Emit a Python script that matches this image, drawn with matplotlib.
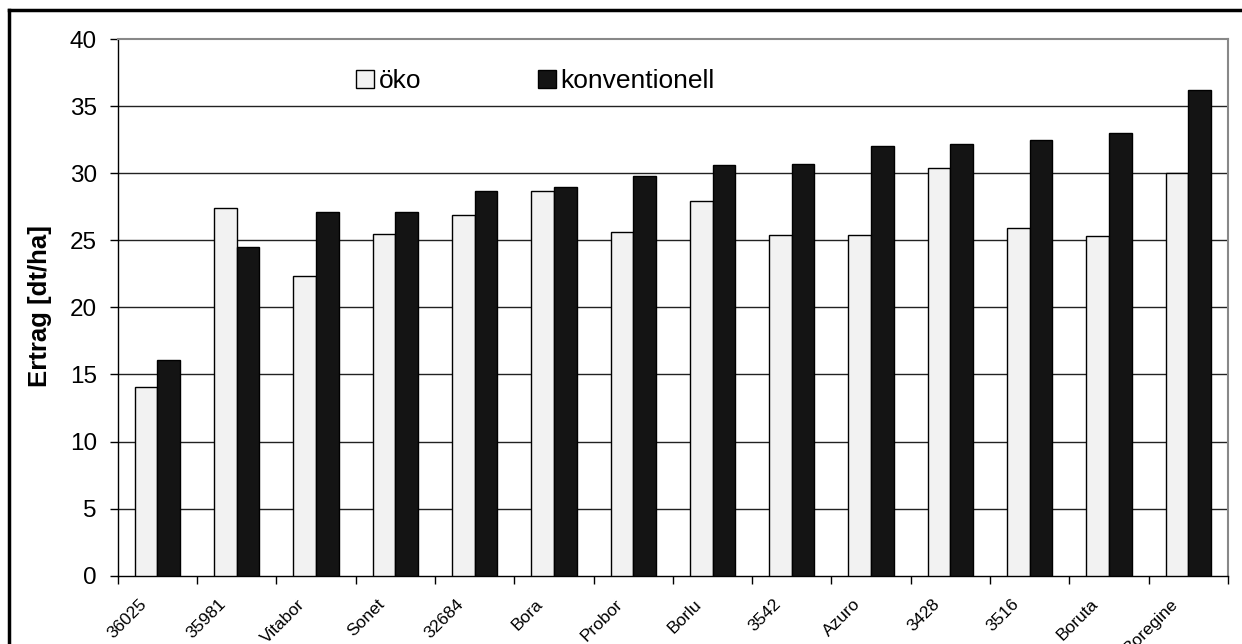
import numpy as np
import matplotlib
matplotlib.use('Agg')
import matplotlib.pyplot as plt
import matplotlib.transforms as mtrans
from matplotlib.lines import Line2D

plt.rcParams['font.family'] = ['Liberation Sans', 'DejaVu Sans']

# data
sorten = ['36025', '35981', 'Vitabor', 'Sonet', '32684', 'Bora', 'Probor',
          'Borlu', '3542', 'Azuro', '3428', '3516', 'Boruta', 'Boregine']
oeko = [14.1, 27.4, 22.3, 25.5, 26.9, 28.7, 25.6, 27.9, 25.4, 25.4, 30.4, 25.9, 25.3, 30.0]
konv = [16.1, 24.5, 27.1, 27.1, 28.7, 29.0, 29.8, 30.6, 30.7, 32.0, 32.2, 32.5, 33.0, 36.2]
yticks = np.arange(0, 41, 5)

W, H = 1242, 644
fig = plt.figure(figsize=(W/100, H/100), dpi=100)
ax = fig.add_axes([117.7/W, 1 - 575.7/H, (1228 - 117.7)/W, (575.7 - 39)/H])

x = np.arange(len(sorten))
bw = 1/3.5
ax.bar(x - bw/2, oeko, width=bw, color='#f2f2f2', edgecolor='black', linewidth=1.0,
       label='öko', zorder=3)
ax.bar(x + bw/2, konv, width=bw, color='#141414', edgecolor='black', linewidth=1.0,
       label='konventionell', zorder=3)

ax.set_xlim(-0.5, len(sorten) - 0.5)
ax.set_ylim(0, 40)
ax.set_yticks(yticks)
ax.set_yticklabels([str(v) for v in yticks], fontsize=17.5)
for v in yticks[1:-1]:
    ax.axhline(v, color='#222222', linewidth=1.0, zorder=1)

# ticks between categories, labels at centres
ax.set_xticks(np.arange(-0.5, len(sorten), 1), minor=True)
ax.set_xticks(x)
ax.set_xticklabels(sorten, rotation=45, ha='right', va='top', fontsize=12.5)
ax.tick_params(axis='x', which='major', length=0, pad=15)
ax.tick_params(axis='x', which='minor', length=6, width=1.0, direction='out')
ax.tick_params(axis='y', length=6, width=1.0, direction='out', pad=9)
off = mtrans.ScaledTranslation(-0.08, 0, fig.dpi_scale_trans)
for lbl in ax.get_xticklabels():
    lbl.set_transform(lbl.get_transform() + off)

for s in ['top', 'right']:
    ax.spines[s].set_color('#888888')
    ax.spines[s].set_linewidth(1.5)
for s in ['left', 'bottom']:
    ax.spines[s].set_color('black')
    ax.spines[s].set_linewidth(1.0)

fig.text(40.5/W, 1 - 306/H, 'Ertrag [dt/ha]', rotation=90, ha='center', va='center',
         fontsize=18.5, fontweight='bold')

ax.legend(loc='center left', bbox_to_anchor=(343/W, 1 - 81/H),
          bbox_transform=fig.transFigure, ncol=2, frameon=False, fontsize=19,
          borderpad=0, handlelength=0.68, handleheight=0.68, handletextpad=0.19,
          columnspacing=4.4)

# outer frame (left and top visible)
fig.add_artist(Line2D([9/W, 9/W], [0, 1 - 10/H], transform=fig.transFigure,
                      color='black', linewidth=2.5))
fig.add_artist(Line2D([9/W, 1], [1 - 10/H, 1 - 10/H], transform=fig.transFigure,
                      color='black', linewidth=2.5))

fig.savefig('out.png', dpi=100)
